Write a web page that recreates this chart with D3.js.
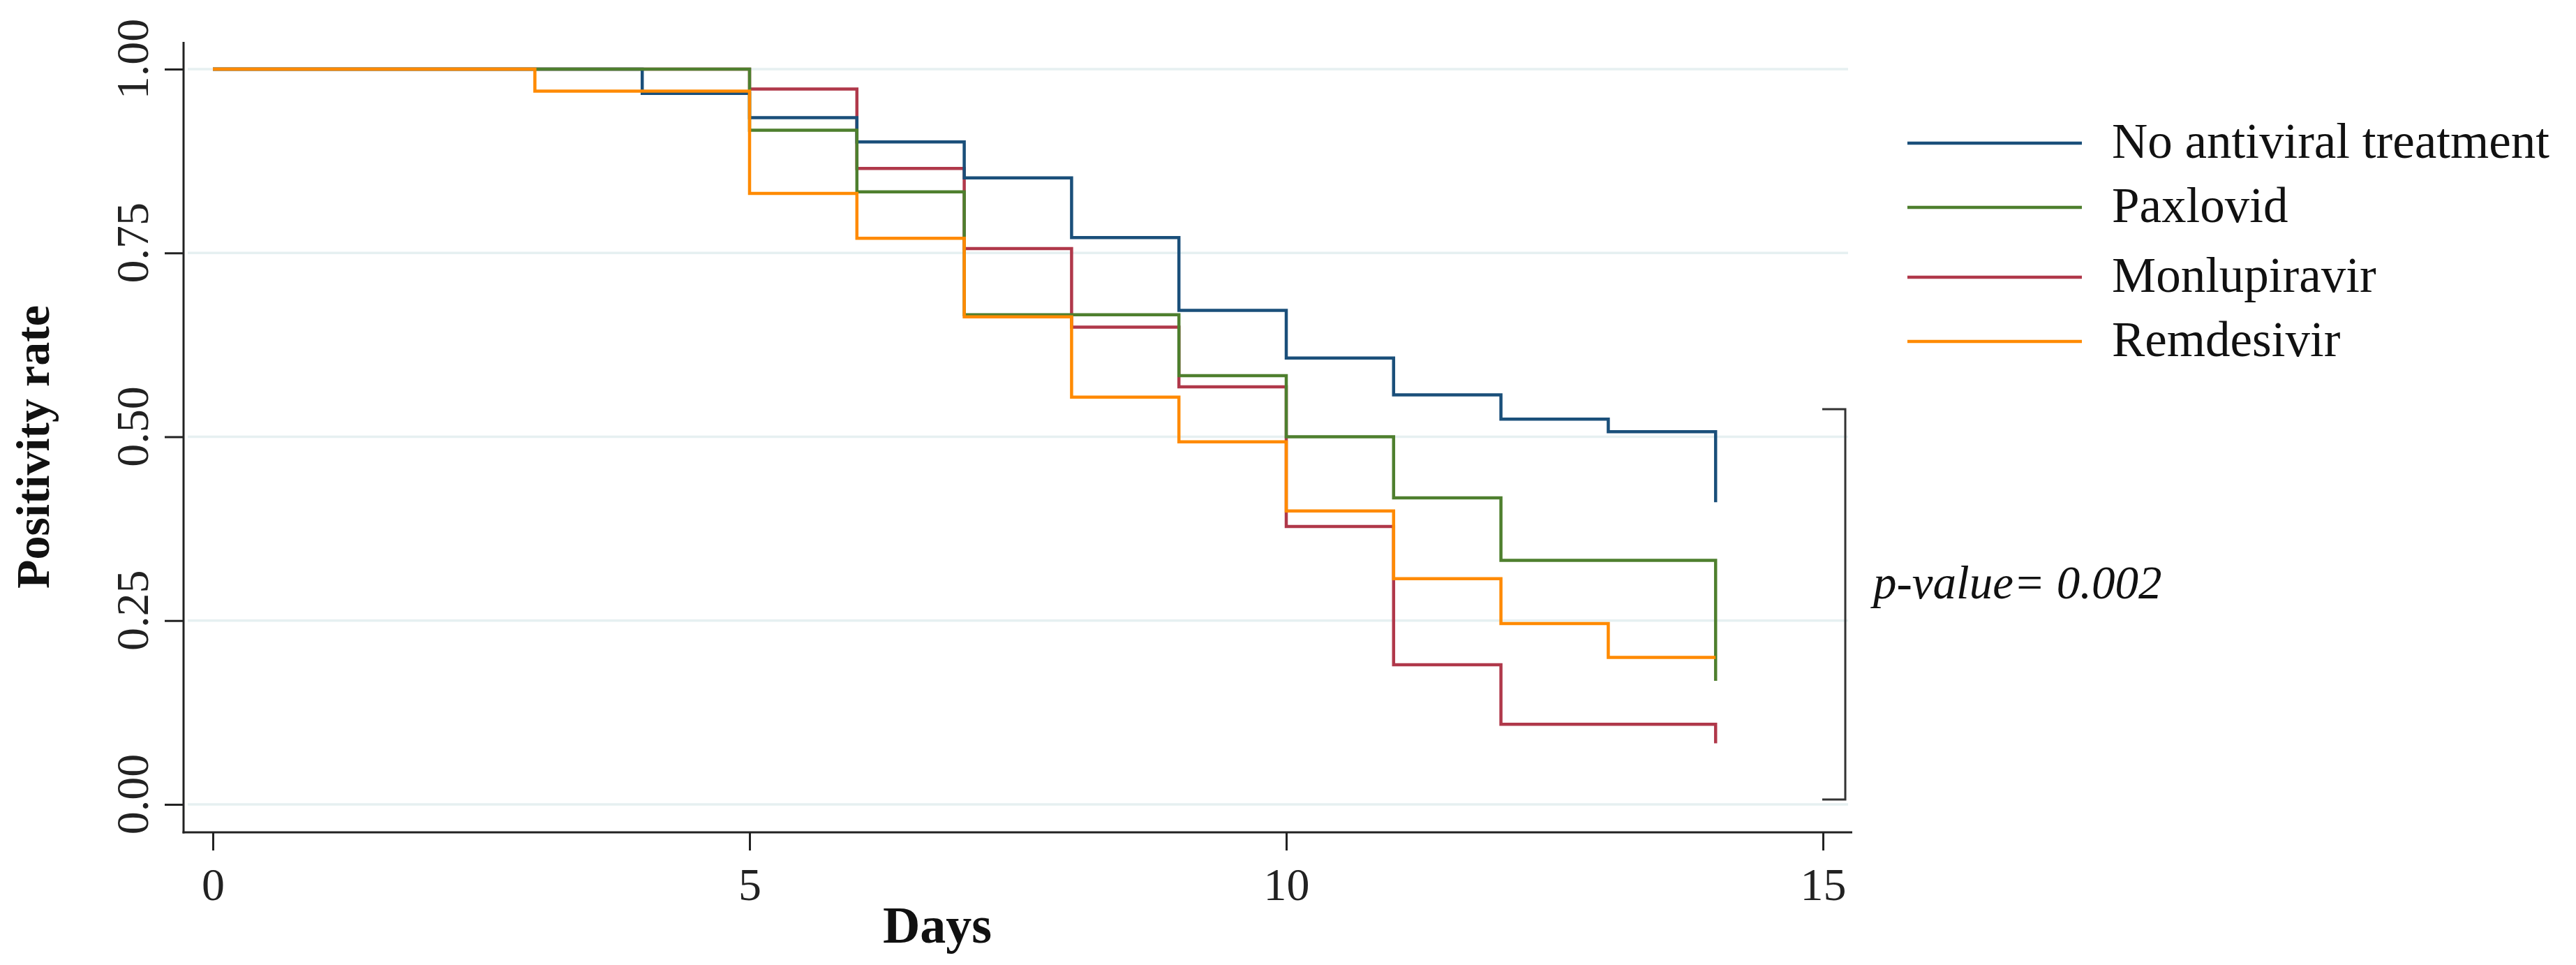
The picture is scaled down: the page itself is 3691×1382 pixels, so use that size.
<!DOCTYPE html>
<html>
<head>
<meta charset="utf-8">
<script src="https://cdn.jsdelivr.net/npm/d3@7"></script>
<style>
  html, body { margin: 0; padding: 0; background: #fff; }
  svg { display: block; }
  text { font-family: "Liberation Serif", "Times New Roman", serif; fill: #111; }
</style>
</head>
<body>
<svg id="chart" width="3691" height="1382"></svg>
<script>
// ---- Data ----
const days = [0, 3, 4, 5, 6, 7, 8, 9, 10, 11, 12, 13, 14];
const seriesNames = ["No antiviral treatment", "Paxlovid", "Monlupiravir", "Remdesivir"];
const seriesColors = ["#1a4f7a", "#4e7f2e", "#b0384a", "#ff8a00"];
const noAntiviral = [1.000, 1.000, 0.967, 0.934, 0.901, 0.852, 0.771, 0.672, 0.607, 0.557, 0.524, 0.507, 0.411];
const paxlovid    = [1.000, 1.000, 1.000, 0.917, 0.833, 0.666, 0.666, 0.583, 0.500, 0.417, 0.332, 0.332, 0.168];
const monlupiravir= [1.000, 1.000, 1.000, 0.973, 0.865, 0.756, 0.649, 0.568, 0.378, 0.190, 0.109, 0.109, 0.083];
const remdesivir  = [1.000, 0.970, 0.970, 0.831, 0.770, 0.663, 0.554, 0.493, 0.399, 0.307, 0.246, 0.200, 0.200];
const xTicks = [0, 5, 10, 15];
const yTicks = [0, 0.25, 0.5, 0.75, 1];
const yTickLabels = ["0.00", "0.25", "0.50", "0.75", "1.00"];
const pValueText = "p-value= 0.002";
const xTitle = "Days";
const yTitle = "Positivity rate";

const values = [noAntiviral, paxlovid, monlupiravir, remdesivir];
const drawOrder = [2, 0, 1, 3];

// ---- Layout ----
const svg = d3.select("#chart");
const x = d3.scaleLinear().domain([0, 15]).range([305, 2612]);
const y = d3.scaleLinear().domain([0, 1]).range([1152, 99]);
const axisX = 263, axisY = 1192;
const axisColor = "#222";

// gridlines
svg.append("g").selectAll("line").data(yTicks).join("line")
  .attr("x1", axisX + 6).attr("x2", 2648)
  .attr("y1", d => y(d)).attr("y2", d => y(d))
  .attr("stroke", "#e6f0f1").attr("stroke-width", 3.5);

// y axis
const yAxis = d3.axisLeft(y).tickValues(yTicks).tickSize(27)
  .tickFormat((d, i) => yTickLabels[i]);
const gy = svg.append("g").attr("transform", `translate(${axisX},0)`).call(yAxis);
gy.select(".domain").remove();
gy.selectAll(".tick line").attr("stroke", axisColor).attr("stroke-width", 3);
gy.selectAll(".tick text")
  .attr("x", null).attr("dy", null)
  .attr("transform", "translate(-51,-15) rotate(-90)")
  .attr("text-anchor", "middle")
  .style("font-family", "'Liberation Serif', serif")
  .style("font-size", "66px").style("fill", "#222");
svg.append("line").attr("x1", axisX).attr("x2", axisX).attr("y1", 60).attr("y2", axisY + 1.5)
  .attr("stroke", axisColor).attr("stroke-width", 3);

// x axis
const xAxis = d3.axisBottom(x).tickValues(xTicks).tickSize(26).tickFormat(d3.format("d"));
const gx = svg.append("g").attr("transform", `translate(0,${axisY})`).call(xAxis);
gx.select(".domain").remove();
gx.selectAll(".tick line").attr("stroke", axisColor).attr("stroke-width", 3);
gx.selectAll(".tick text")
  .attr("y", 97).attr("dy", null)
  .attr("text-anchor", "middle")
  .style("font-family", "'Liberation Serif', serif")
  .style("font-size", "66px").style("fill", "#222");
svg.append("line").attr("x1", axisX - 1.5).attr("x2", 2654).attr("y1", axisY).attr("y2", axisY)
  .attr("stroke", axisColor).attr("stroke-width", 3);

// step lines
const line = d3.line().curve(d3.curveStepAfter)
  .x(d => x(d[0])).y(d => y(d[1]));
const lg = svg.append("g");
drawOrder.forEach(i => {
  const pts = days.map((dd, k) => [dd, values[i][k]]);
  lg.append("path").datum(pts)
    .attr("d", line)
    .attr("fill", "none")
    .attr("stroke", seriesColors[i])
    .attr("stroke-width", 4.5)
    .attr("stroke-linejoin", "miter");
});

// legend
const legendRows = [205, 297, 397, 489];
const leg = svg.append("g");
seriesNames.forEach((name, i) => {
  leg.append("line")
    .attr("x1", 2733).attr("x2", 2983)
    .attr("y1", legendRows[i]).attr("y2", legendRows[i])
    .attr("stroke", seriesColors[i]).attr("stroke-width", 4.5);
  leg.append("text")
    .attr("x", 3026).attr("y", legendRows[i] + 21)
    .style("font-size", "71px")
    .text(name);
});

// bracket + p-value
svg.append("path")
  .attr("d", "M2611,586 H2644 V1145 H2611")
  .attr("fill", "none").attr("stroke", "#333").attr("stroke-width", 3);
svg.append("text")
  .attr("x", 2684).attr("y", 857)
  .style("font-size", "67px").style("font-style", "italic")
  .text(pValueText);

// axis titles
svg.append("text")
  .attr("transform", "translate(70,640) rotate(-90)")
  .attr("text-anchor", "middle")
  .style("font-size", "68px").style("font-weight", "bold")
  .text(yTitle);
svg.append("text")
  .attr("x", 1343).attr("y", 1350)
  .attr("text-anchor", "middle")
  .style("font-size", "74px").style("font-weight", "bold")
  .text(xTitle);
</script>
</body>
</html>
